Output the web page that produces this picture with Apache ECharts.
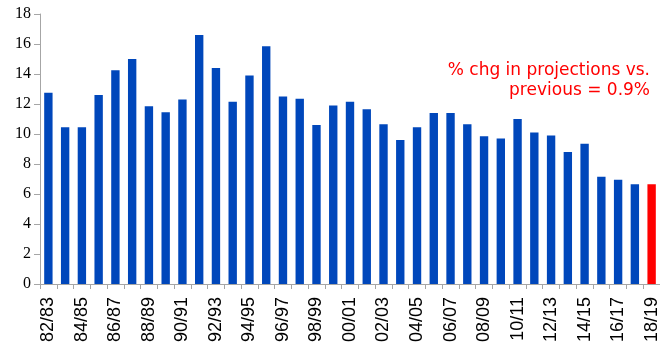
<!DOCTYPE html>
<html>
<head>
<meta charset="UTF-8">
<script src="https://cdn.jsdelivr.net/npm/echarts@6/dist/echarts.min.js"></script>
<style>
  html, body { margin: 0; padding: 0; background: #fff; }
  #chart { width: 660px; height: 343px; }
</style>
</head>
<body>
<div id="chart"></div>
<script>
// crop years and values
const seasons = ['82/83','83/84','84/85','85/86','86/87','87/88','88/89','89/90','90/91','91/92',
  '92/93','93/94','94/95','95/96','96/97','97/98','98/99','99/00','00/01','01/02',
  '02/03','03/04','04/05','05/06','06/07','07/08','08/09','09/10','10/11','11/12',
  '12/13','13/14','14/15','15/16','16/17','17/18','18/19'];
const values = [12.75, 10.45, 10.45, 12.6, 14.25, 15.0, 11.85, 11.45, 12.3, 16.6,
  14.4, 12.15, 13.9, 15.85, 12.5, 12.35, 10.6, 11.9, 12.15, 11.65,
  10.65, 9.6, 10.45, 11.4, 11.4, 10.65, 9.85, 9.7, 11.0, 10.1,
  9.9, 8.8, 9.35, 7.15, 6.95, 6.65, 6.65];
const yTicks = { min: 0, max: 18, step: 2 };
const note = '% chg in projections vs.\nprevious = 0.9%';

const chart = echarts.init(document.getElementById('chart'));
chart.setOption({
  animation: false,
  grid: { left: 40, right: 0, top: 14, bottom: 59, outerBoundsMode: 'none' },
  xAxis: {
    type: 'category',
    data: seasons,
    axisLine: { lineStyle: { color: '#a6a6a6' } },
    axisTick: { show: true, interval: 0, length: 5, lineStyle: { color: '#a6a6a6' } },
    axisLabel: {
      interval: 1, rotate: 90, margin: 13,
      color: '#000', fontFamily: 'Liberation Sans', fontSize: 18
    }
  },
  yAxis: {
    type: 'value',
    min: yTicks.min, max: yTicks.max, interval: yTicks.step,
    axisLine: { show: true, lineStyle: { color: '#a6a6a6' } },
    axisTick: { show: true, length: 6, lineStyle: { color: '#a6a6a6' } },
    splitLine: { show: false },
    axisLabel: { margin: 9, color: '#000', fontFamily: 'Liberation Serif', fontSize: 16 }
  },
  series: [{
    type: 'bar',
    barWidth: '50%',
    data: values.map((v, i) => ({
      value: v,
      itemStyle: { color: i === values.length - 1 ? '#ff0000' : '#0047bb' }
    }))
  }],
  graphic: [{
    type: 'text',
    x: 650,
    y: 61,
    style: {
      text: note,
      fill: '#ff0000',
      font: '17px "DejaVu Sans"',
      align: 'right',
      lineHeight: 20
    }
  }]
});
</script>
</body>
</html>
